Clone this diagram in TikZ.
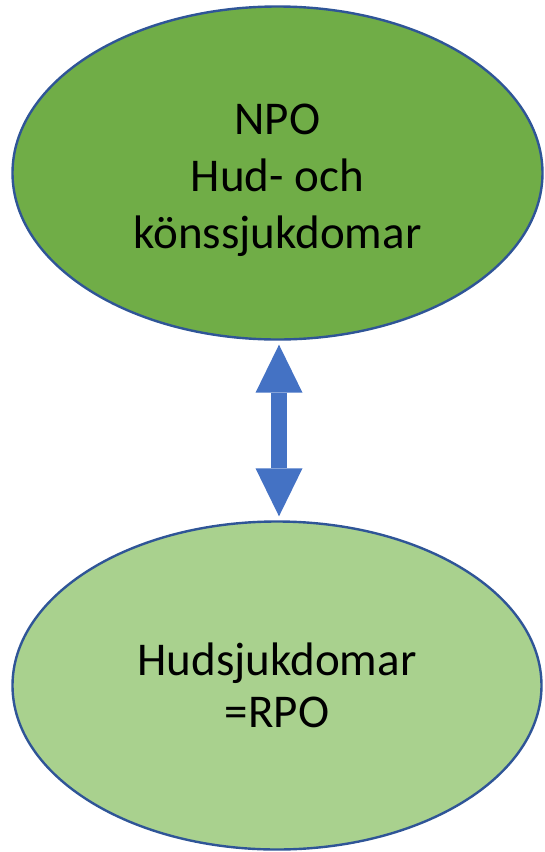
\documentclass[tikz,border=0pt]{standalone}
\usepackage{fontspec}
\setmainfont{Carlito}
\usetikzlibrary{shapes.geometric,arrows.meta}
\definecolor{npogreen}{HTML}{70AD47}
\definecolor{rpogreen}{HTML}{A9D18E}
\definecolor{rimblue}{HTML}{2F5597}
\definecolor{arrowblue}{HTML}{4472C4}
\tikzset{
  bubble/.style={ellipse, draw=rimblue, line width=2.4pt, inner sep=0pt},
  bubbletext/.style={align=center, inner sep=0pt, text=black},
  linkarrow/.style={draw=arrowblue, line width=16pt,
    {Triangle[length=48pt,width=47pt,line width=0pt]}-{Triangle[length=48pt,width=47pt,line width=0pt]}}
}
\begin{document}
\begin{tikzpicture}[x=1pt,y=-1pt]
  \useasboundingbox (0,0) rectangle (544,852);
  % upper ellipse: the national programme area
  \node[bubble, fill=npogreen, minimum width=530pt, minimum height=333pt] (npo) at (277.5,173) {};
  \node[bubbletext, font=\fontsize{47}{57}\selectfont] (npotxt) at ([yshift=-7pt]npo.center)
    {NPO\\Hud- och\\könssjukdomar};
  % lower ellipse: the regional programme area
  \node[bubble, fill=rpogreen, minimum width=529pt, minimum height=328pt] (rpo) at (277,685.5) {};
  \node[bubbletext, font=\fontsize{47}{52}\selectfont] (rpotxt) at (rpo.center)
    {Hudsjukdomar\\=RPO};
  % two-headed link between the two bodies
  \coordinate (linktop) at ([xshift=1.5pt,yshift=-4pt]npo.south);
  \coordinate (linkbot) at ([xshift=2pt,yshift=4pt]rpo.north);
  \draw[linkarrow] (linktop) -- (linkbot);
\end{tikzpicture}
\end{document}
